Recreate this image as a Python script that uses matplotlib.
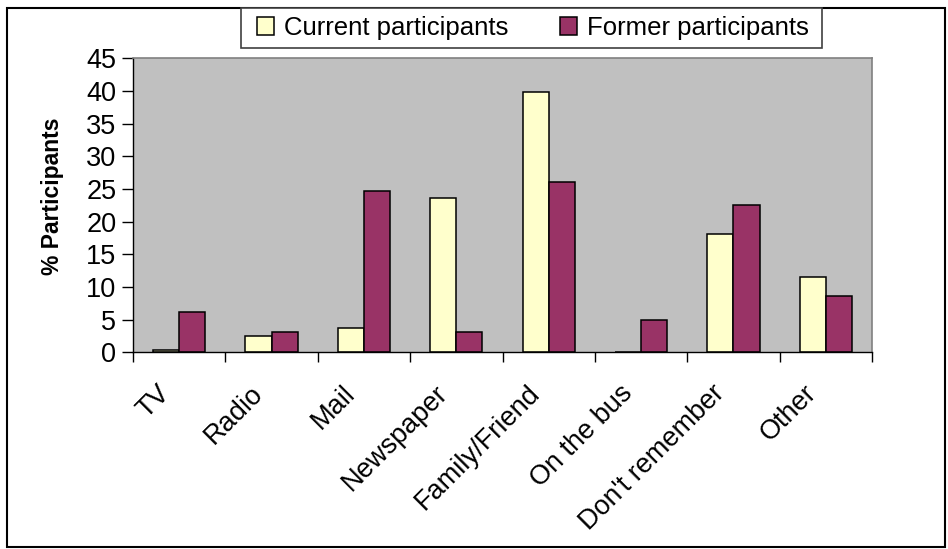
import matplotlib
matplotlib.use('Agg')
import matplotlib.pyplot as plt
import numpy as np
from matplotlib.patches import Rectangle
from matplotlib.transforms import ScaledTranslation

plt.rcParams['font.family'] = ['Liberation Sans', 'DejaVu Sans']

categories = ['TV', 'Radio', 'Mail', 'Newspaper', 'Family/Friend',
              'On the bus', "Don't remember", 'Other']
current = [0.3, 2.5, 3.7, 23.6, 39.8, 0.0, 18.1, 11.6]
former = [6.1, 3.1, 24.7, 3.1, 26.0, 4.9, 22.6, 8.6]
yticks = [0, 5, 10, 15, 20, 25, 30, 35, 40, 45]

fig = plt.figure(figsize=(9.48, 5.49), dpi=100)
ax = fig.add_axes([133 / 948, 1 - 352.3 / 549, (872 - 133) / 948, (352.3 - 58.3) / 549])
ax.set_facecolor('#C0C0C0')

x = np.arange(len(categories))
w = 0.283
ax.bar(x - w / 2, current, w, color='#FFFFCC', edgecolor='black', linewidth=1.1,
       label='Current participants', zorder=3)
ax.bar(x + w / 2, former, w, color='#993366', edgecolor='black', linewidth=1.1,
       label='Former participants', zorder=3)

ax.set_xlim(-0.5, len(categories) - 0.5)
ax.set_ylim(0, 45)
ax.set_yticks(yticks)
ax.tick_params(axis='y', direction='out', length=8, width=1, pad=4, labelsize=19.5)

# category boundaries get the ticks, labels sit on the centres
ax.set_xticks(np.arange(-0.5, len(categories)), minor=True)
ax.tick_params(axis='x', which='minor', direction='out', length=7, width=1)
ax.set_xticks(x)
ax.set_xticklabels(categories, rotation=45, ha='right', va='top',
                   rotation_mode='anchor', fontsize=19.5)
ax.tick_params(axis='x', which='major', length=0, pad=0)
shift = ScaledTranslation(-22 / 100, -28 / 100, fig.dpi_scale_trans)
for lab in ax.get_xticklabels():
    lab.set_transform(lab.get_transform() + shift)

for side in ['top', 'right']:
    ax.spines[side].set_color('#808080')
    ax.spines[side].set_linewidth(1.2)
for side in ['left', 'bottom']:
    ax.spines[side].set_color('black')
    ax.spines[side].set_linewidth(1.0)
ax.spines['bottom'].set_zorder(4)

ax.set_ylabel('% Participants', fontsize=16.5, fontweight='bold')
ax.yaxis.set_label_coords(-0.094, 0.53)

leg = fig.legend(loc='center', bbox_to_anchor=(533 / 948, 1 - 28 / 549), ncol=2,
                 fontsize=18.5, frameon=False, handlelength=0.65, handleheight=0.65,
                 handletextpad=0.4, columnspacing=2.0)
# legend box drawn by hand so it can be wider than the entries need
fig.patches.append(Rectangle((241 / 948, 1 - 48 / 549), (822 - 241) / 948, 40 / 549,
                             transform=fig.transFigure, facecolor='white',
                             edgecolor='#404040', linewidth=1.2, zorder=1))

# outer chart border
fig.patches.append(Rectangle((7 / 948, 1 - 547 / 549), (945 - 7) / 948, (547 - 8) / 549,
                             transform=fig.transFigure, fill=False,
                             edgecolor='black', linewidth=1.5, zorder=0))

fig.savefig('out.png', dpi=100)
